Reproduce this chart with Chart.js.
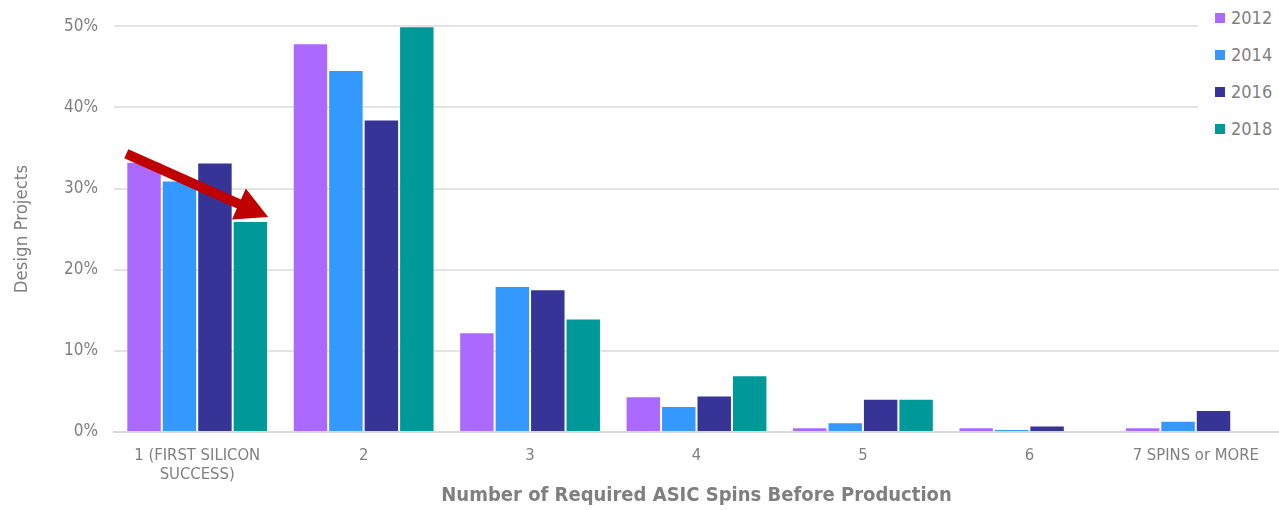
<!DOCTYPE html>
<html>
<head>
<meta charset="utf-8">
<script src="https://cdn.jsdelivr.net/npm/chart.js@4.4.1/dist/chart.umd.min.js"></script>
<style>
  html, body { margin: 0; padding: 0; background: #fff; }
  #wrap { position: relative; width: 1279px; height: 510px; }
  #legend {
    position: absolute; left: 1198px; top: 0; width: 81px; height: 150px;
    background: #fff; font-family: "DejaVu Sans Condensed", "DejaVu Sans", sans-serif;
    font-size: 18px; color: #7f7f7f;
  }
  #legend .item { position: absolute; left: 17px; height: 22px; line-height: 22px; white-space: nowrap; }
  #legend .sw { display: inline-block; width: 10px; height: 10px; margin-right: 6px; vertical-align: 1px; }
</style>
</head>
<body>
<div id="wrap">
  <canvas id="spins" width="1279" height="510"></canvas>
  <div id="legend"></div>
</div>
<script>
// =================== DATA ===================
const categories = [["1 (FIRST SILICON", "SUCCESS)"], "2", "3", "4", "5", "6", "7 SPINS or MORE"];
const years = ["2012", "2014", "2016", "2018"];
const y2012 = [33.3, 47.9, 12.3, 4.4, 0.6, 0.6, 0.6];
const y2014 = [31.0, 44.6, 18.0, 3.2, 1.2, 0.35, 1.4];
const y2016 = [33.2, 38.5, 17.6, 4.5, 4.1, 0.8, 2.7];
const y2018 = [26.0, 50.0, 14.0, 7.0, 4.1, 0, 0];
const yTicks = [0, 10, 20, 30, 40, 50];

const colors = ["#ab69ff", "#3399ff", "#363497", "#009999"];
const grey = "#7f7f7f";
const font = "'DejaVu Sans Condensed', 'DejaVu Sans', sans-serif";

// red arrow across the first group, anchored on the 2012 and 2018 bars
const trendArrow = {
  id: "trendArrow",
  afterDatasetsDraw(chart) {
    const a = chart.getDatasetMeta(0).data[0];
    const b = chart.getDatasetMeta(3).data[0];
    if (!a || !b) return;
    const x1 = a.x - a.width / 2, y1 = a.y - 8;
    const x2 = b.x + b.width / 2, y2 = b.y - 4;
    const ang = Math.atan2(y2 - y1, x2 - x1);
    const headLen = 32, headHalf = 17;
    const bx = x2 - headLen * Math.cos(ang), by = y2 - headLen * Math.sin(ang);
    const ctx = chart.ctx;
    ctx.save();
    ctx.strokeStyle = "#c00000";
    ctx.fillStyle = "#c00000";
    ctx.lineWidth = 10;
    ctx.beginPath();
    ctx.moveTo(x1, y1);
    ctx.lineTo(bx + 2 * Math.cos(ang), by + 2 * Math.sin(ang));
    ctx.stroke();
    ctx.beginPath();
    ctx.moveTo(x2, y2);
    ctx.lineTo(bx + headHalf * Math.sin(ang), by - headHalf * Math.cos(ang));
    ctx.lineTo(bx - headHalf * Math.sin(ang), by + headHalf * Math.cos(ang));
    ctx.closePath();
    ctx.fill();
    ctx.restore();
  }
};

const series = [y2012, y2014, y2016, y2018];

new Chart(document.getElementById("spins"), {
  type: "bar",
  data: {
    labels: categories,
    datasets: series.map((d, i) => ({
      label: years[i],
      data: d,
      backgroundColor: colors[i],
      borderColor: "rgba(255,255,255,0.3)",
      borderWidth: 1,
      categoryPercentage: 0.852,
      barPercentage: 1.0
    }))
  },
  options: {
    responsive: false,
    animation: false,
    layout: { autoPadding: false, padding: { top: 24, right: 0, left: 0, bottom: 0 } },
    plugins: { legend: { display: false }, tooltip: { enabled: false } },
    scales: {
      x: {
        grid: { display: false },
        border: { color: "#d9d9d9", width: 2 },
        ticks: { color: grey, font: { family: font, size: 16.5, lineHeight: 1.15 }, padding: 6, maxRotation: 0, autoSkip: false },
        title: {
          display: true, text: "Number of Required ASIC Spins Before Production",
          color: grey, font: { family: font, size: 20, weight: "bold" }, padding: { top: 0, bottom: 2 }
        },
        afterFit(s) { s.height = 78; }
      },
      y: {
        min: 0, max: 50,
        afterBuildTicks(s) { s.ticks = yTicks.map(v => ({ value: v })); },
        grid: { color: "#e3e3e3", lineWidth: 2, drawTicks: false },
        border: { display: false },
        ticks: { color: grey, font: { family: font, size: 17 }, padding: 16, callback: v => v + "%" },
        title: {
          display: true, text: "Design Projects",
          color: grey, font: { family: font, size: 18.5 }, padding: { top: 11, bottom: 0 }
        },
        afterFit(s) { s.width = 114; }
      }
    }
  },
  plugins: [trendArrow]
});

// overlay legend (white box cuts the top gridlines)
const legend = document.getElementById("legend");
years.forEach((y, i) => {
  const el = document.createElement("div");
  el.className = "item";
  el.style.top = (7 + i * 37) + "px";
  el.innerHTML = '<span class="sw" style="background:' + colors[i] + '"></span>' + y;
  legend.appendChild(el);
});
</script>
</body>
</html>
